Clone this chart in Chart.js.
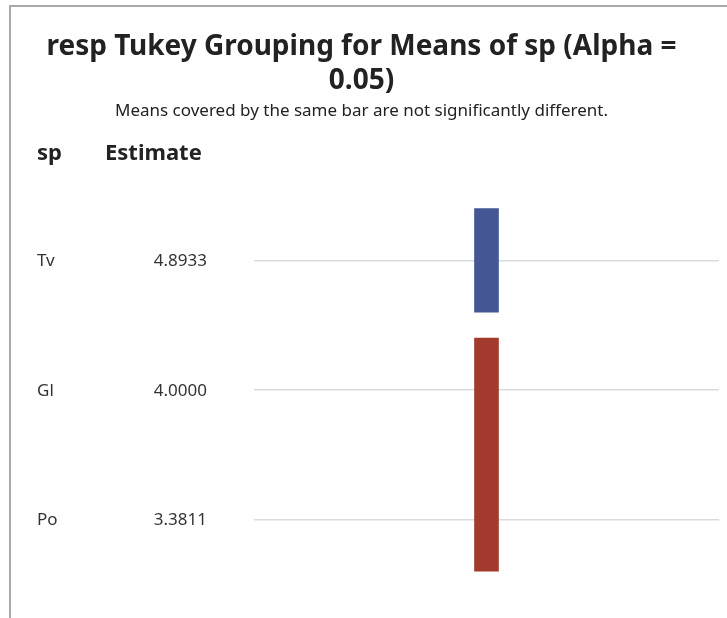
<!DOCTYPE html>
<html>
<head>
<meta charset="utf-8">
<script src="https://cdn.jsdelivr.net/npm/chart.js@4.4.1/dist/chart.umd.min.js"></script>
<style>
  html, body { margin: 0; padding: 0; background: #fff; }
  #wrap { position: relative; width: 727px; height: 618px; overflow: hidden; }
  #frame { position: absolute; left: 9px; top: 5px; width: 740px; height: 640px;
           border-left: 2px solid #a9a9a9; border-top: 2px solid #a9a9a9; }
  canvas { position: absolute; left: 0; top: 0; }
</style>
</head>
<body>
<div id="wrap">
  <div id="frame"></div>
  <canvas id="grafico" width="727" height="618"></canvas>
</div>
<script>
const categorias = ['Tv', 'Gl', 'Po'];
const estimativas = [4.8933, 4.0000, 3.3811];
// grupos de Tukey: primeira e ultima linha cobertas por cada barra
const grupoA = [0, 0];
const grupoB = [1, 2];
const meiaAltura = 0.4;

const fonte = "'Noto Sans', 'DejaVu Sans', sans-serif";

// desenha as colunas "sp" e "Estimate" ao lado do grafico
const tabelaPlugin = {
  id: 'tabela',
  afterDraw(chart) {
    const ctx = chart.ctx;
    const y = chart.scales.y;
    ctx.save();
    ctx.fillStyle = '#222';
    ctx.textBaseline = 'alphabetic';
    ctx.font = 'bold 22px ' + fonte;
    ctx.textAlign = 'left';
    ctx.fillText('sp', 37, 160);
    ctx.fillText('Estimate', 105, 160);
    ctx.textBaseline = 'middle';
    ctx.font = '17px ' + fonte;
    ctx.fillStyle = '#333';
    categorias.forEach((c, i) => {
      const py = y.getPixelForValue(i) + 1;
      ctx.textAlign = 'left';
      ctx.fillText(c, 37, py);
      ctx.textAlign = 'right';
      ctx.fillText(estimativas[i].toFixed(4), 207, py);
    });
    ctx.restore();
  }
};

const ctx = document.getElementById('grafico').getContext('2d');
new Chart(ctx, {
  type: 'bar',
  data: {
    labels: ['A'],
    datasets: [
      {
        label: 'A',
        data: [[grupoA[0] - meiaAltura, grupoA[1] + meiaAltura]],
        backgroundColor: '#445694',
        grouped: false,
        barThickness: 24
      },
      {
        label: 'B',
        data: [[grupoB[0] - meiaAltura, grupoB[1] + meiaAltura]],
        backgroundColor: '#A23A2E',
        grouped: false,
        barThickness: 24
      }
    ]
  },
  options: {
    responsive: false,
    animation: false,
    layout: { padding: { left: 4, right: 8, top: 0, bottom: 34 } },
    plugins: {
      legend: { display: false },
      tooltip: { enabled: false },
      title: {
        display: true,
        text: ['resp Tukey Grouping for Means of sp (Alpha =', '0.05)'],
        color: '#222',
        font: { family: fonte, size: 28, weight: 'bold', lineHeight: 1.22 },
        padding: { top: 30, bottom: 3 }
      },
      subtitle: {
        display: true,
        text: 'Means covered by the same bar are not significantly different.',
        color: '#222',
        font: { family: fonte, size: 17, lineHeight: 1.2 },
        padding: { top: 0, bottom: 74 }
      }
    },
    scales: {
      x: { display: false },
      y: {
        reverse: true,
        min: -0.5,
        max: 2.5,
        afterFit: axis => { axis.width = 250; },
        afterBuildTicks: axis => { axis.ticks = categorias.map((c, i) => ({ value: i })); },
        ticks: { display: false },
        border: { display: false },
        grid: { color: '#d8dcdd', lineWidth: 1.5, drawTicks: false }
      }
    }
  },
  plugins: [tabelaPlugin]
});
</script>
</body>
</html>
